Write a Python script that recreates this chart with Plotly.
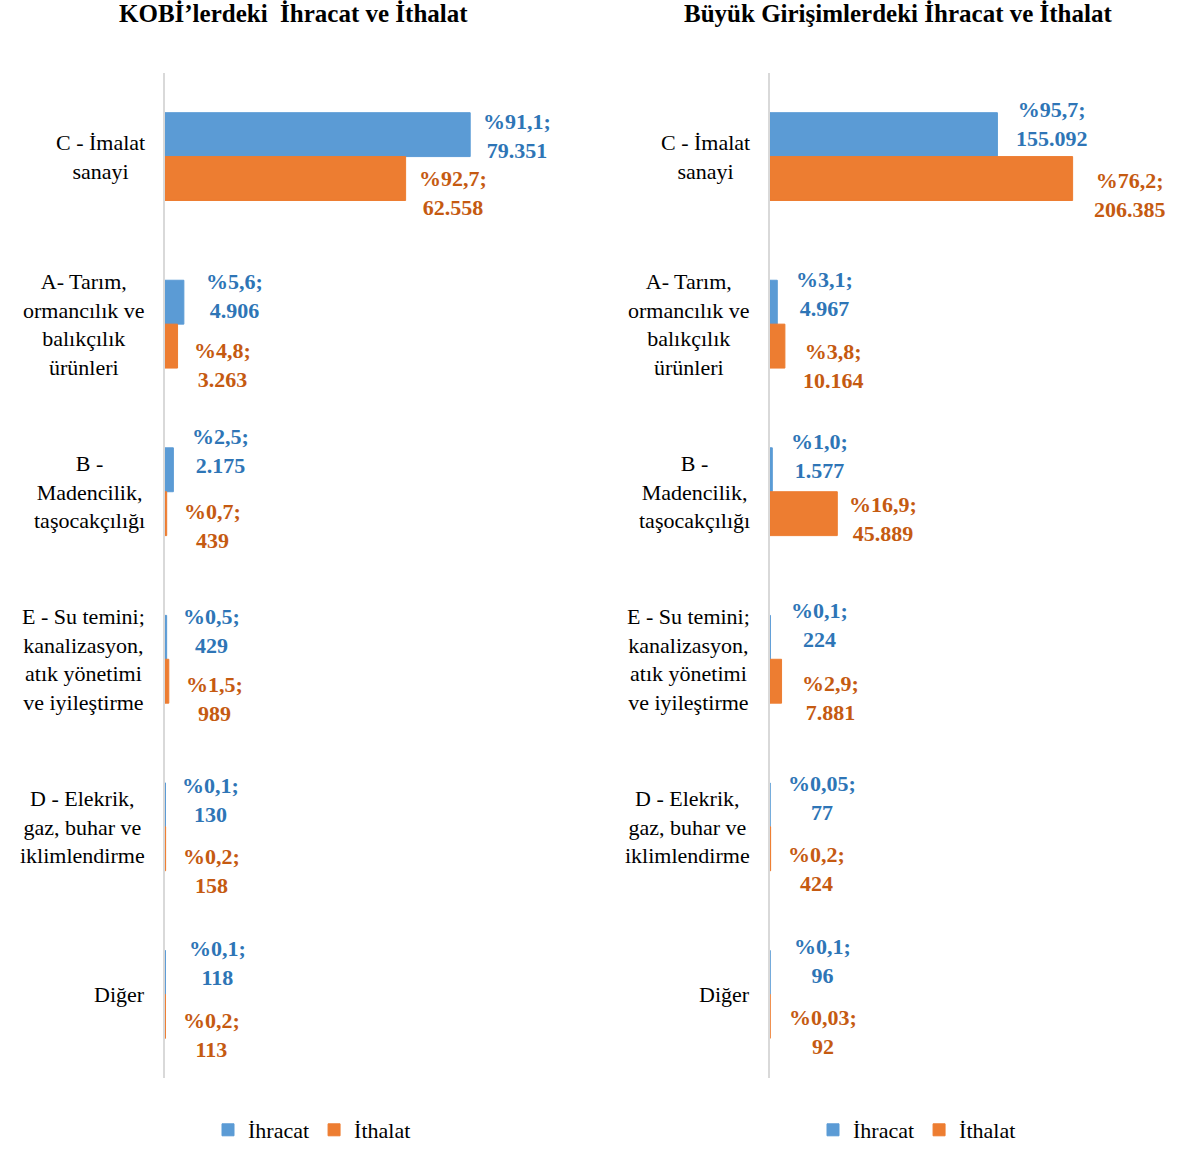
import plotly.graph_objects as go

# ---------------- data ----------------
categories = [
    "C - İmalat<br>sanayi",
    "A- Tarım,<br>ormancılık ve<br>balıkçılık<br>ürünleri",
    "B -<br>Madencilik,<br>taşocakçılığı",
    "E - Su temini;<br>kanalizasyon,<br>atık yönetimi<br>ve iyileştirme",
    "D - Elekrik,<br>gaz, buhar ve<br>iklimlendirme",
    "Diğer",
]
series_names = ["İhracat", "İthalat"]

kobi_ihracat = [79351, 4906, 2175, 429, 130, 118]
kobi_ihracat_pct = ["91,1", "5,6", "2,5", "0,5", "0,1", "0,1"]
kobi_ithalat = [62558, 3263, 439, 989, 158, 113]
kobi_ithalat_pct = ["92,7", "4,8", "0,7", "1,5", "0,2", "0,2"]

buyuk_ihracat = [155092, 4967, 1577, 224, 77, 96]
buyuk_ihracat_pct = ["95,7", "3,1", "1,0", "0,1", "0,05", "0,1"]
buyuk_ithalat = [206385, 10164, 45889, 7881, 424, 92]
buyuk_ithalat_pct = ["76,2", "3,8", "16,9", "2,9", "0,2", "0,03"]

titles = ["KOBİ’lerdeki  İhracat ve İthalat", "Büyük Girişimlerdeki İhracat ve İthalat"]

# ---------------- styles ----------------
W, H = 1180, 1151


def px(x):
    return x / W


def py(y):
    return 1 - y / H


FONT = "Liberation Serif, Times New Roman, serif"
BAR_COLORS = ["#5B9BD5", "#ED7D31"]
LABEL_COLORS = ["#2E75B6", "#C55A11"]

# label offsets (px): horizontal from bar end to label centre, vertical from category centre
kobi_dx = [[47, 51, 47, 45, 45, 52], [47, 45, 46, 46, 46, 46]]
kobi_dy = [[-21, -28, -41, -28, -27, -31], [36, 41, 34, 40, 44, 41]]
buyuk_dx = [[55, 47, 47, 49, 52, 52], [57, 49, 46, 49, 46, 53]]
buyuk_dy = [[-33, -30, -36, -34, -29, -33], [38, 42, 27, 39, 42, 38]]


def fmt(v):
    return f"{v:,}".replace(",", ".")


fig = go.Figure()

panels = [
    dict(vals=[kobi_ihracat, kobi_ithalat], pcts=[kobi_ihracat_pct, kobi_ithalat_pct],
         dx=kobi_dx, dy=kobi_dy, xa="x", ya="y", legend="legend"),
    dict(vals=[buyuk_ihracat, buyuk_ithalat], pcts=[buyuk_ihracat_pct, buyuk_ithalat_pct],
         dx=buyuk_dx, dy=buyuk_dy, xa="x2", ya="y2", legend="legend2"),
]

annotations = []
for p in panels:
    for s in range(2):
        fig.add_trace(go.Bar(
            x=p["vals"][s], y=categories, orientation="h", name=series_names[s],
            marker=dict(color=BAR_COLORS[s], line=dict(color=BAR_COLORS[s], width=1)),
            xaxis=p["xa"], yaxis=p["ya"], legend=p["legend"], hoverinfo="skip",
        ))
        for i, cat in enumerate(categories):
            annotations.append(dict(
                x=p["vals"][s][i], y=cat, xref=p["xa"], yref=p["ya"],
                text=f"<b>%{p['pcts'][s][i]};<br>{fmt(p['vals'][s][i])}</b>",
                showarrow=False, xanchor="center", yanchor="middle", align="center",
                xshift=p["dx"][s][i], yshift=-p["dy"][s][i],
                font=dict(family=FONT, size=22, color=LABEL_COLORS[s]),
            ))

# category labels
for cat in categories:
    for xr, yr in [(px(147), "y"), (px(752), "y2")]:
        annotations.append(dict(
            x=xr, y=cat, xref="paper", yref=yr, text=cat, showarrow=False,
            xanchor="right", yanchor="middle", align="center",
            font=dict(family=FONT, size=22, color="#000000"),
        ))

# titles
for t, xc in zip(titles, [px(293), px(898)]):
    annotations.append(dict(
        x=xc, y=py(14), xref="paper", yref="paper", text=f"<b>{t}</b>",
        showarrow=False, xanchor="center", yanchor="middle",
        font=dict(family=FONT, size=25, color="#000000"),
    ))

ydom = [py(1081), py(73)]
yaxis_common = dict(
    domain=ydom, type="category", categoryorder="array", categoryarray=categories,
    range=[5.5, -0.5], showticklabels=False, ticks="", showgrid=False, zeroline=False,
    showline=True, linecolor="#D9D9D9", linewidth=2, layer="below traces", fixedrange=True,
)
xaxis_common = dict(visible=False, fixedrange=True, showgrid=False, zeroline=False)

legend_common = dict(
    orientation="h", xanchor="center", yanchor="middle", y=py(1133),
    font=dict(family=FONT, size=22, color="#000000"), bgcolor="rgba(0,0,0,0)",
    traceorder="normal",
)

fig.update_layout(
    width=W, height=H,
    margin=dict(l=0, r=0, t=0, b=0),
    paper_bgcolor="white", plot_bgcolor="white",
    barmode="group", bargap=0.476, bargroupgap=0,
    font=dict(family=FONT, size=22, color="#000000"),
    xaxis=dict(**xaxis_common, domain=[px(165), px(600)], range=[0, 113100], anchor="y"),
    xaxis2=dict(**xaxis_common, domain=[px(770), px(1180)], range=[0, 279620], anchor="y2"),
    yaxis=dict(**yaxis_common, anchor="x"),
    yaxis2=dict(**yaxis_common, anchor="x2"),
    legend=dict(**legend_common, x=px(312)),
    legend2=dict(**legend_common, x=px(917)),
    annotations=annotations,
    showlegend=True,
)

fig.write_html(
    "out.html",
    config={"displayModeBar": False, "staticPlot": False},
    post_script="document.body.style.margin='0';",
)
